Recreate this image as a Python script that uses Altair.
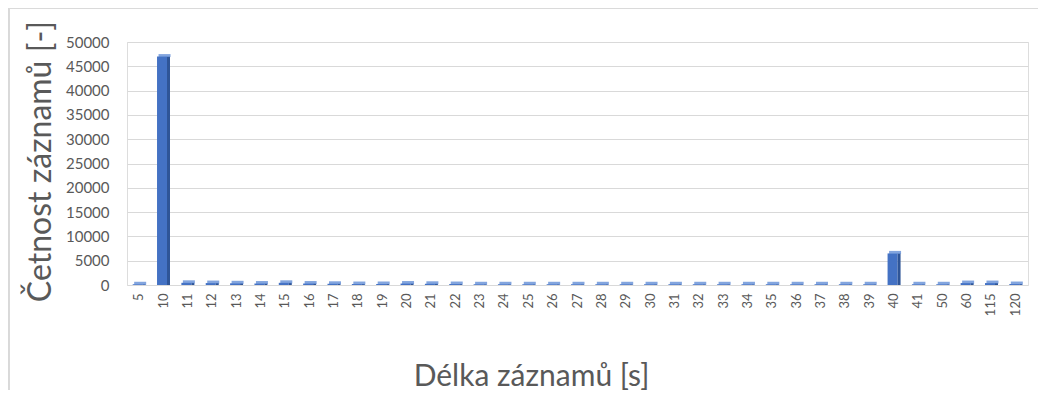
import altair as alt
import pandas as pd

categories = ["5", "10", "11", "12", "13", "14", "15", "16", "17", "18", "19", "20",
              "21", "22", "23", "24", "25", "26", "27", "28", "29", "30", "31", "32",
              "33", "34", "35", "36", "37", "38", "39", "40", "41", "50", "60", "115", "120"]
counts = [150, 47000, 450, 400, 350, 300, 450, 300, 250, 200, 200, 300,
          250, 200, 150, 150, 150, 150, 150, 150, 150, 150, 150, 150,
          150, 150, 150, 150, 150, 150, 150, 6500, 150, 150, 400, 400, 200]
y_ticks = [0, 5000, 10000, 15000, 20000, 25000, 30000, 35000, 40000, 45000, 50000]

df = pd.DataFrame({"cat": categories, "n": counts})

FONT = "Lato"
GREY = "#595959"

x_enc = alt.X("cat:N", sort=categories,
              scale=alt.Scale(paddingInner=0, paddingOuter=0),
              axis=alt.Axis(title="Délka záznamů [s]", labelAngle=270, labelAlign="right",
                            labelBaseline="middle", labelFontSize=13, labelColor=GREY,
                            labelPadding=8, ticks=False, domain=False, grid=False,
                            labelOverlap=False,
                            titleFontSize=30, titleFontWeight="normal", titleColor=GREY,
                            titleX=404, titleY=91, titleBaseline="middle", titleAlign="center",
                            titleFont=FONT, labelFont=FONT))
y_enc = alt.Y("n:Q", scale=alt.Scale(domain=[0, 50000], nice=False),
              axis=alt.Axis(title="Četnost záznamů [-]", values=y_ticks,
                            format="d", labelOverlap=False,
                            labelFontSize=15, labelColor=GREY, labelPadding=18, ticks=False,
                            domain=False, gridColor="#D9D9D9", gridWidth=1,
                            titleFontSize=32, titleFontWeight="normal", titleColor=GREY,
                            titleX=-87, titleY=119, titleAngle=270, titleBaseline="middle",
                            titleAlign="center", titleFont=FONT, labelFont=FONT))

base = alt.Chart(df)

front = base.mark_bar(size=10, color="#4472C4", xOffset=-1.5).encode(x=x_enc, y=y_enc)
side = base.mark_bar(size=3, color="#2F5597", xOffset=5).encode(x=x_enc, y=y_enc)
cap = base.mark_tick(orient="horizontal", size=12, thickness=3, color="#4F7FD0",
                     xOffset=1, yOffset=-1).encode(x=x_enc, y=y_enc)

frame_top = alt.Chart(df).mark_rule(color="#D9D9D9", strokeWidth=1).encode(
    x=alt.value(-118), x2=alt.value(930), y=alt.value(-34))
frame_left = alt.Chart(df).mark_rule(color="#D9D9D9", strokeWidth=1).encode(
    x=alt.value(-118), y=alt.value(-34), y2=alt.value(360))

chart = alt.layer(front, side, cap, frame_top, frame_left).properties(
    width=901, height=243,
    autosize=alt.AutoSizeParams(type="none"),
    padding={"left": 119, "top": 34, "right": 10, "bottom": 105},
).configure_view(stroke=None).configure(font=FONT)

chart.save("out.html", embed_options={"renderer": "svg", "actions": False})
